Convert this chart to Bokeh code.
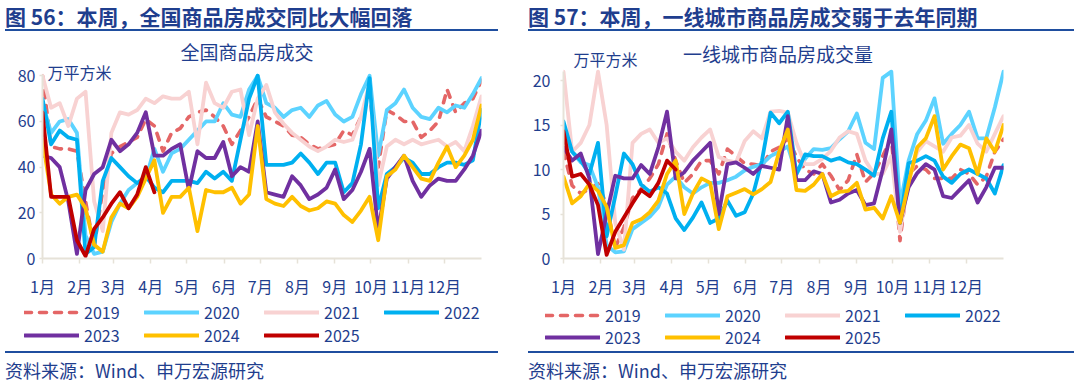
from bokeh.plotting import figure
from bokeh.models import Range1d, FixedTicker, Legend, LegendItem, Label, Div
from bokeh.layouts import row, column
from bokeh.embed import file_html
from bokeh.resources import INLINE

FONT = "Noto Sans CJK SC"
TEXT = "#1F3E8E"
RULE = "#1F4E9F"
AXIS = "#E6E2D8"

# ---------------- data ----------------
years = ["2019", "2020", "2021", "2022", "2023", "2024", "2025"]
year_colors = ["#E46666", "#5CD3FF", "#F8D2D2", "#00B0F0", "#7030A0", "#FFC000", "#C00000"]
month_labels = ["1月", "2月", "3月", "4月", "5月", "6月", "7月", "8月", "9月", "10月", "11月", "12月"]
month_start_day = [0, 31, 59, 90, 120, 151, 181, 212, 243, 273, 304, 334]
weeks_per_year = 52
days_per_year = 365

# 全国商品房成交（万平方米，周度）
nat_2019 = [80, 49, 48, 48, 47, 25, 5, 30, 46, 49, 51, 53, 61, 58, 47, 55, 57, 62, 64, 65,
            62, 58, 50, 56, 62, 70, 62, 60, 58, 54, 53, 50, 48, 49, 50, 56, 54, 62, 72, 40,
            65, 63, 60, 60, 53, 56, 60, 74, 64, 68, 70, 78]
nat_2020 = [68, 55, 60, 61, 55, 10, 2, 3, 16, 24, 30, 33, 35, 48, 38, 46, 48, 52, 56, 60,
            60, 68, 63, 62, 74, 80, 68, 66, 62, 65, 66, 62, 67, 69, 63, 60, 62, 72, 80, 45,
            65, 68, 74, 66, 62, 61, 66, 64, 67, 66, 72, 79]
nat_2021 = [80, 66, 68, 58, 70, 73, 25, 12, 55, 64, 63, 65, 70, 68, 71, 70, 70, 73, 50, 77,
            68, 66, 73, 74, 54, 70, 76, 64, 59, 55, 52, 49, 47, 49, 52, 51, 52, 62, 77, 32,
            49, 52, 50, 52, 50, 51, 52, 49, 51, 47, 58, 71]
nat_2022 = [70, 50, 56, 53, 52, 2, 5, 34, 44, 40, 36, 33, 36, 31, 29, 34, 34, 34, 33, 38,
            35, 38, 34, 52, 70, 80, 41, 41, 41, 42, 46, 42, 37, 42, 42, 29, 33, 50, 79, 22,
            37, 40, 44, 42, 37, 37, 40, 42, 42, 41, 43, 65]
nat_2023 = [45, 44, 40, 25, 2, 30, 37, 40, 52, 47, 50, 55, 64, 45, 45, 48, 50, 30, 47, 44,
            44, 51, 36, 40, 38, 60, 29, 28, 27, 36, 32, 26, 28, 31, 39, 26, 30, 38, 48, 12,
            35, 40, 45, 34, 27, 32, 35, 34, 34, 39, 45, 56]
nat_2024 = [52, 28, 24, 27, 28, 22, 6, 3, 18, 24, 22, 27, 35, 43, 20, 27, 27, 31, 12, 30,
            29, 29, 31, 24, 28, 58, 26, 24, 23, 27, 23, 21, 22, 25, 24, 19, 16, 21, 27, 8,
            36, 39, 45, 40, 35, 34, 42, 49, 40, 45, 52, 67]
nat_2025 = [64, 27, 27, 27, 8, 1, 13, 18, 24, 29, 22, 28, 40, 29]

# 一线城市商品房成交量（万平方米，周度；图中超出 21 的部分被截断）
t1_2019 = [12, 8.2, 7.3, 7.8, 8.4, 6, 1.2, 3.5, 6.8, 7.8, 9, 10.6, 14, 11, 8.5, 9.5, 11, 11, 9.5, 12.3,
           11.5, 10.7, 10.6, 10.4, 12, 12.5, 13.5, 11.4, 10, 9.5, 10.6, 9.3, 7.7, 8.8, 11.7, 8.6,
           9.6, 11.5, 13.6, 2, 9.5, 10.4, 10, 9, 9, 9, 10, 9.5, 8.3, 9.2, 12, 13.4]
t1_2020 = [14.3, 12, 10.8, 10.5, 8, 1.5, 0.7, 0.8, 3.3, 4, 4.7, 5.8, 8.3, 9.2, 8, 7.3, 8, 8.5, 8.5, 8.8,
           9.2, 9.9, 10.3, 10.6, 11.5, 12, 12.6, 9.5, 11.2, 12.3, 12.2, 12.4, 13.4, 14.3, 16.3, 13,
           12.3, 20.3, 21, 6, 11, 14, 15.5, 18, 12.9, 14, 15, 16.5, 13.5, 13.5, 17, 21]
t1_2021 = [21, 12, 13, 15, 21, 15, 4, 1, 13, 14, 14.5, 13, 13.5, 12, 11, 12.5, 13.6, 14.5, 11.4, 11,
           10.8, 13.2, 14.3, 13.5, 16.5, 16.6, 16.4, 13, 10.6, 10.6, 11.2, 12.1, 13.6, 14.3, 14, 11,
           9.5, 9.5, 11.5, 3, 8.7, 12, 13.2, 12.6, 12, 13.6, 13.8, 15, 12.9, 12, 14, 16]
t1_2022 = [15.4, 12, 11, 9.5, 13, 2.5, 7, 11.8, 10.6, 8.3, 7.5, 8, 7.3, 4.5, 3.2, 4.6, 6.3, 4, 4.5, 6.5,
           4.8, 5.2, 7.3, 11, 16.4, 15.2, 16.5, 9.5, 11.7, 11.5, 11.5, 11, 11.3, 10.8, 10.6, 10,
           9.3, 13.5, 16.5, 4, 10.7, 11, 11.5, 11, 9.2, 8.5, 9.5, 10, 9.5, 9, 7.3, 10.5]
t1_2023 = [12.5, 11, 11.8, 9, 0.5, 5, 9.3, 9, 9, 10.5, 9.5, 12.5, 16.5, 9, 9.7, 11, 12, 13, 5, 10.6,
           10.8, 10.2, 9.5, 10.4, 10.2, 10, 16, 8.8, 8.8, 9.8, 9.5, 6.3, 6.6, 7.3, 7.7, 6,
           6.2, 10, 14.5, 4, 8, 9.6, 10.6, 10, 7, 6.8, 7.8, 8.8, 6.3, 8, 10.2, 10.2]
t1_2024 = [9.2, 6.2, 7, 8.4, 7.6, 5.8, 1.2, 1.5, 4, 4.4, 5.2, 6.5, 9.5, 11, 5, 7.3, 9, 8.5, 3.3, 7,
           7.4, 7.8, 7.2, 7.8, 8.6, 12, 14.5, 7.7, 7.6, 8.3, 9.5, 7, 7.5, 7.6, 8.5, 5.5,
           5.7, 4.5, 7, 4, 8.5, 12.5, 13.5, 16, 10, 11.5, 12.8, 12.4, 9.5, 13.5, 12, 15]
t1_2025 = [14.3, 9.2, 9.5, 8.3, 6, 0.4, 3, 4.6, 6.2, 7.7, 7, 8.5, 11, 10]

nat_series = [nat_2019, nat_2020, nat_2021, nat_2022, nat_2023, nat_2024, nat_2025]
t1_series = [t1_2019, t1_2020, t1_2021, t1_2022, t1_2023, t1_2024, t1_2025]

nat_yticks = [0, 20, 40, 60, 80]
t1_yticks = [0, 5, 10, 15, 20]


def week_to_day(n):
    step = days_per_year / (weeks_per_year - 1)
    return [i * step for i in range(n)]


def line_style(yr, col):
    if yr == "2019":
        return dict(line_color=col, line_width=3.6, line_dash="7 8",
                    line_cap="round", line_join="round")
    return dict(line_color=col, line_width=3.8, line_cap="round", line_join="round")


def make_chart(series, y_end, y_bounds, y_ticks, width, height, b_left, b_right, b_top, b_bottom,
               y_standoff, chart_title, title_x, title_y, unit_x, unit_y):
    p = figure(width=width, height=height, x_range=Range1d(0, days_per_year),
               y_range=Range1d(0, y_end), output_backend="svg", toolbar_location=None,
               min_border_left=b_left, min_border_right=b_right,
               min_border_top=b_top, min_border_bottom=b_bottom)
    p.outline_line_color = None
    p.grid.visible = False
    p.background_fill_color = "white"
    p.border_fill_color = "white"

    for ax in (p.xaxis[0], p.yaxis[0]):
        ax.axis_line_color = AXIS
        ax.axis_line_width = 2
        ax.major_tick_line_color = AXIS
        ax.major_tick_line_width = 1.5
        ax.major_tick_in = 0
        ax.minor_tick_line_color = None
        ax.major_label_text_font = FONT
        ax.major_label_text_font_size = "16px"
        ax.major_label_text_color = TEXT

    p.xaxis.ticker = FixedTicker(ticks=month_start_day)
    p.xaxis.major_label_overrides = {d: m for d, m in zip(month_start_day, month_labels)}
    p.xaxis.major_tick_out = 5
    p.xaxis.major_label_standoff = 10

    p.yaxis.ticker = FixedTicker(ticks=y_ticks)
    p.yaxis.bounds = y_bounds
    p.yaxis.major_tick_out = 3
    p.yaxis.major_label_standoff = y_standoff

    for yr, col, vals in zip(years, year_colors, series):
        p.line(week_to_day(len(vals)), vals, **line_style(yr, col))

    p.add_layout(Label(x=title_x, y=title_y, x_units="screen", y_units="screen",
                       text=chart_title, text_font=FONT, text_font_size="19px",
                       text_color=TEXT, text_align="center", text_baseline="middle"))
    p.add_layout(Label(x=unit_x, y=unit_y, x_units="screen", y_units="screen",
                       text="万平方米", text_font=FONT, text_font_size="16px",
                       text_color=TEXT, text_align="left", text_baseline="middle"))
    return p


def make_legend(width, height, x0, row_bottoms, pitch=120):
    lp = figure(width=width, height=height, x_range=Range1d(0, 1), y_range=Range1d(0, 1),
                output_backend="svg", toolbar_location=None, min_border=0,
                min_border_left=0, min_border_right=0, min_border_top=0, min_border_bottom=0,
                x_axis_location=None, y_axis_location=None)
    lp.outline_line_color = None
    lp.grid.visible = False
    lp.background_fill_color = "white"
    lp.border_fill_color = "white"
    for k, (yr, col) in enumerate(zip(years, year_colors)):
        r = lp.line([float("nan")], [float("nan")], **line_style(yr, col))
        col_i, row_i = k % 4, k // 4
        lg = Legend(items=[LegendItem(label=yr, renderers=[r])],
                    location=(x0 + pitch * col_i, row_bottoms[row_i]),
                    orientation="horizontal",
                    glyph_width=55, glyph_height=24, label_height=24,
                    label_standoff=5, spacing=0, padding=0, margin=0,
                    border_line_color=None, background_fill_alpha=0,
                    label_text_font=FONT, label_text_font_size="16px",
                    label_text_color=TEXT, label_text_baseline="middle")
        lp.add_layout(lg)
    return lp


def title_div(text, width, left):
    html = (f'<div style="box-sizing:border-box;width:{width}px;height:31px;padding-top:4px;'
            f'font-family:\'{FONT}\';font-size:21px;font-weight:bold;color:{TEXT};'
            f'line-height:24px;border-bottom:2px solid {RULE};white-space:nowrap;">{text}</div>')
    return Div(text=html, width=width, height=31, margin=(0, 0, 0, left))


def source_div(width, left):
    html = (f'<div style="box-sizing:border-box;width:{width}px;height:33px;padding-top:5px;'
            f'font-family:\'{FONT}\';font-size:18px;color:{TEXT};'
            f'line-height:24px;border-top:2px solid {RULE};white-space:nowrap;">'
            f'资料来源：Wind、申万宏源研究</div>')
    return Div(text=html, width=width, height=33, margin=(0, 0, 0, left))


# chart figures span page y 31..300; frame top at y=36
# left: frame x 42..481, 0 at y=262, 80 at y=76 ; right: frame x 563..1003, 0 at y=263, 20 at y=81
left_fig = make_chart(nat_series, 97.2, (0, 80.5), nat_yticks, 528, 269, 42, 47, 5, 38, 4,
                      "全国商品房成交", 204.5, 207, 5, 187)
right_fig = make_chart(t1_series, 24.95, (0, 21), t1_yticks, 550, 269, 35, 75, 5, 37, 10,
                       "一线城市商品房成交量", 214.5, 205, 10, 200)

# legend strips span page y 300..351 (wrapped in rows so their frames are not aligned to the charts)
left_leg = make_legend(528, 51, 24, (27, 4))
right_leg = make_legend(550, 51, 17, (24, 2))

left_col = column(title_div("图 56：本周，全国商品房成交同比大幅回落", 493, 5),
                  row(left_fig, spacing=0), row(left_leg, spacing=0),
                  source_div(493, 5), spacing=0)
right_col = column(title_div("图 57：本周，一线城市商品房成交弱于去年同期", 546, 0),
                   row(right_fig, spacing=0), row(right_leg, spacing=0),
                   source_div(546, 0), spacing=0)
page = row(left_col, right_col, spacing=0)

open("out.html", "w").write(file_html(page, INLINE))
